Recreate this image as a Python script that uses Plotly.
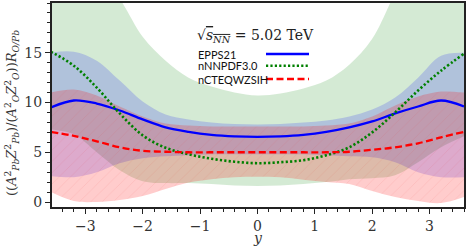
import plotly.graph_objects as go

# ---------------- data ----------------
rapidity = [-3.6, -3.2, -2.8, -2.4, -2.0, -1.6, -1.2, -0.8, -0.4, 0.0,
            0.4, 0.8, 1.2, 1.6, 2.0, 2.4, 2.8, 3.2, 3.6]

epps_central = [9.5, 10.2, 9.9, 9.2, 8.3, 7.5, 7.05, 6.75, 6.6, 6.55,
                6.6, 6.75, 7.05, 7.5, 8.1, 8.9, 9.6, 10.2, 9.6]
epps_upper = [15.0, 15.1, 14.2, 12.2, 10.1, 8.8, 8.3, 8.0, 7.85, 7.8,
              7.85, 8.0, 8.2, 8.6, 9.3, 10.5, 12.5, 14.7, 15.0]
epps_lower = [2.6, 2.5, 3.0, 3.9, 4.4, 4.6, 4.7, 4.8, 4.8, 4.8,
              4.8, 4.8, 4.7, 4.6, 4.5, 4.0, 3.0, 2.5, 2.5]

nnpdf_central = [15.1, 13.7, 11.5, 8.9, 6.7, 5.45, 4.8, 4.35, 4.05, 3.9,
                 4.0, 4.2, 4.7, 5.5, 7.0, 9.0, 11.2, 13.2, 14.9]
nnpdf_upper = [35.0, 28.0, 23.0, 20.4, 16.6, 14.2, 12.5, 11.6, 11.0, 10.7,
               10.9, 11.4, 12.2, 13.8, 16.4, 21.0, 25.0, 30.0, 35.0]
nnpdf_lower = [7.3, 6.8, 5.0, 3.2, 2.1, 1.9, 1.9, 1.8, 1.65, 1.6,
               1.65, 1.8, 2.0, 2.3, 2.4, 2.7, 4.0, 5.5, 6.6]

ncteq_central = [7.05, 6.65, 6.1, 5.5, 5.15, 5.05, 5.0, 5.0, 5.0, 5.0,
                 5.0, 5.0, 5.0, 5.05, 5.25, 5.5, 5.9, 6.5, 7.05]
ncteq_upper = [11.0, 11.3, 10.7, 9.6, 8.6, 7.9, 7.7, 7.6, 7.6, 7.6,
               7.6, 7.6, 7.7, 7.9, 8.6, 9.7, 10.6, 11.1, 11.0]
ncteq_lower = [1.0, 0.1, 0.0, 0.2, 0.6, 1.3, 1.95, 2.3, 2.5, 2.55,
               2.5, 2.25, 2.0, 1.8, 1.1, 0.5, 0.1, -0.1, 0.5]

series_names = ["EPPS21", "nNNPDF3.0", "nCTEQWZSIH"]
x_ticks = [-3, -2, -1, 0, 1, 2, 3]
y_ticks = [0, 5, 10, 15]

# ---------------- figure ----------------
fig = go.Figure()

def band(lower, upper, fillcolor, pattern=None):
    fig.add_trace(go.Scatter(x=rapidity, y=lower, mode="lines",
                             line=dict(width=0, shape="spline"),
                             hoverinfo="skip", showlegend=False))
    kw = dict(x=rapidity, y=upper, mode="lines", fill="tonexty",
              fillcolor=fillcolor, line=dict(width=0, shape="spline"),
              hoverinfo="skip", showlegend=False)
    if pattern is not None:
        kw["fillpattern"] = pattern
    fig.add_trace(go.Scatter(**kw))

band(nnpdf_lower, nnpdf_upper, "rgba(0,128,0,0.17)")
band(epps_lower, epps_upper, "rgba(0,0,255,0.17)")
band(ncteq_lower, ncteq_upper, "rgba(255,0,0,0.2)",
     pattern=dict(shape="/", bgcolor="rgba(255,0,0,0.2)",
                  fgcolor="rgba(230,40,40,0.3)", size=8, solidity=0.07))

fig.add_trace(go.Scatter(x=rapidity, y=epps_central, mode="lines", name=series_names[0],
                         line=dict(color="#0000ff", width=2.3, shape="spline"),
                         showlegend=False))
fig.add_trace(go.Scatter(x=rapidity, y=nnpdf_central, mode="lines", name=series_names[1],
                         line=dict(color="#008000", width=2.6, shape="spline",
                                   dash="2.2px,2.2px"),
                         showlegend=False))
fig.add_trace(go.Scatter(x=rapidity, y=ncteq_central, mode="lines", name=series_names[2],
                         line=dict(color="#ff0000", width=2.3, shape="spline",
                                   dash="7px,3.5px"),
                         showlegend=False))

# ---------------- layout ----------------
W, H = 466, 248
ML, MR, MT, MB = 52, 2, 3, 41
PW, PH = W - ML - MR, H - MT - MB

def px_x(p):
    return (p - ML) / PW

def px_y(p):
    return (H - MB - p) / PH

serif = "DejaVu Serif"
tickfont = dict(family=serif, size=14, color="#333333")

fig.update_layout(
    width=W, height=H,
    margin=dict(l=ML, r=MR, t=MT, b=MB, autoexpand=False),
    paper_bgcolor="white", plot_bgcolor="white",
    showlegend=False,
    xaxis=dict(range=[-3.58, 3.6], tickvals=x_ticks, ticks="outside",
               ticklen=5, tickwidth=1.3, tickcolor="#222",
               showline=True, linewidth=2, linecolor="#222", mirror=True,
               showgrid=False, zeroline=False, tickfont=tickfont,
               minor=dict(dtick=0.2, ticks="outside", ticklen=3,
                          tickwidth=1, tickcolor="#222", showgrid=False)),
    yaxis=dict(range=[-0.5, 20.0], tickvals=y_ticks, ticks="outside",
               ticklen=5, tickwidth=1.3, tickcolor="#222",
               showline=True, linewidth=2, linecolor="#222", mirror=True,
               showgrid=False, zeroline=False, tickfont=tickfont,
               minor=dict(dtick=1, ticks="outside", ticklen=3,
                          tickwidth=1, tickcolor="#222", showgrid=False)),
)

# x-axis title
fig.add_annotation(text="<i>y</i>", xref="paper", yref="paper",
                   x=px_x(258), y=px_y(238), xanchor="center", yanchor="middle",
                   showarrow=False, borderpad=0,
                   font=dict(family=serif, size=14, color="#333"))

ytitle = ("((<i>A</i><sup>2</sup><sub><i>Pb</i></sub><i>Z</i><sup>2</sup><sub><i>Pb</i></sub>)/"
          "(<i>A</i><sup>2</sup><sub><i>O</i></sub><i>Z</i><sup>2</sup><sub><i>O</i></sub>))"
          "<i>R</i><sub><i>O/Pb</i></sub>")
fig.add_annotation(text=ytitle, xref="paper", yref="paper",
                   x=px_x(12), y=px_y(113), textangle=-90, showarrow=False,
                   xanchor="center", yanchor="middle", borderpad=0,
                   font=dict(family=serif, size=13, color="#333"))

# legend title
fig.add_annotation(text="√<span style='text-decoration:overline'><i>s</i><sub><i>NN</i></sub></span> = 5.02 TeV",
                   xref="paper", yref="paper", x=px_x(196), y=px_y(36),
                   xanchor="left", yanchor="middle", showarrow=False, borderpad=0,
                   font=dict(family=serif, size=14, color="#222"))

legend_rows = [(54, "#0000ff", "solid", 2.3), (65.8, "#008000", "2.2px,2.2px", 2.6),
               (79, "#ff0000", "7px,3.5px", 2.3)]
for name, (py, col, dash, w) in zip(series_names, legend_rows):
    fig.add_annotation(text=name, xref="paper", yref="paper",
                       x=px_x(197), y=px_y(py), xanchor="left", yanchor="middle",
                       showarrow=False, borderpad=0,
                       font=dict(family="Lato", size=11, color="#111"))
    fig.add_shape(type="line", xref="paper", yref="paper",
                  x0=px_x(266), x1=px_x(309), y0=px_y(py), y1=px_y(py),
                  line=dict(color=col, width=w, dash=dash))

fig.write_html("out.html", config={"displayModeBar": False},
               post_script="document.body.style.margin='0px';document.body.style.padding='0px';document.body.style.overflow='hidden';")
